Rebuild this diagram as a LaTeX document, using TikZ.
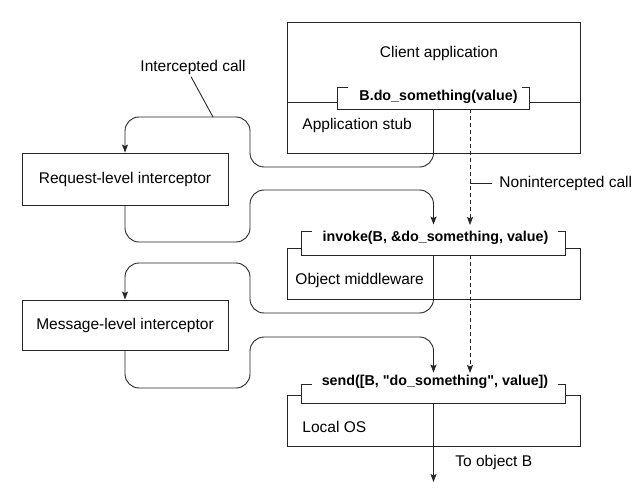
\documentclass[tikz,border=0pt]{standalone}
\usepackage{fontspec}
\setmainfont{Liberation Sans}
\newfontfamily\codefont{Liberation Sans}
\usetikzlibrary{arrows.meta}

\tikzset{
  box/.style = {draw, inner sep = 0pt},
  brkt/.style = {fill = white, inner sep = 0pt},
  txt/.style = {font = \fontsize{15.5}{18}\selectfont, inner sep = 2pt},
  code/.style = {font = \fontsize{14.3}{17}\selectfont\codefont\bfseries, inner sep = 2pt},
  tip/.style = {-{Stealth[length = 8pt, width = 6pt, inset = 1.5pt]}},
  flow/.style = {tip, rounded corners = 14pt},
  nicall/.style = {tip, dash pattern = on 4pt off 3pt}
}

\begin{document}
\begin{tikzpicture}[x = 1pt, y = -1pt, line width = 0.9pt, draw = black!85]
\useasboundingbox (0,0) rectangle (642,489);

% layers on the right
\node [box, minimum width = 293pt, minimum height = 131pt] (client) at (433.5,87.5) {};
\node [box, minimum width = 293pt, minimum height = 51pt] (mware) at (433.5,273.5) {};
\node [box, minimum width = 293pt, minimum height = 51pt] (locos) at (433.5,420.5) {};
\draw (client.west |- 0,102) -- (client.east |- 0,102);

\node [txt] (clienttxt) at (439,53) {Client application};
\node [txt, anchor = west] (stubtxt) at (300,125) {Application stub};
\node [txt, anchor = west] (mwaretxt) at (293,280) {Object middleware};
\node [txt, anchor = west] (locostxt) at (300,427) {Local OS};

% the calls
\node [brkt, minimum width = 191pt, minimum height = 21pt] (callB) at (433.5,98.5) {};
\node [brkt, minimum width = 263pt, minimum height = 23pt] (invk) at (433.5,243.5) {};
\node [brkt, minimum width = 263pt, minimum height = 18pt] (sendm) at (433.5,394) {};
\foreach \n in {callB, invk, sendm}
  \draw ([xshift = 10pt]\n.north west) -- (\n.north west) -- (\n.south west)
    -- (\n.south east) -- (\n.north east) -- ([xshift = -7pt]\n.north east);

\node [code] (callBtxt) at (438.5,97) {B.do\_something(value)};
\node [code] (invktxt) at (435.5,238) {invoke(B, \&do\_something, value)};
\node [code] (sendmtxt) at (435,382) {send([B, "do\_something", value])};

% interceptors
\node [box, txt, minimum width = 206pt, minimum height = 52pt] (reqint) at (125,179) {Request-level interceptor};
\node [box, txt, minimum width = 206pt, minimum height = 50pt] (msgint) at (125,325) {Message-level interceptor};

% intercepted path
\draw [flow] (callB.south) |- (250,167) |- (reqint.north |- 0,117) -- (reqint.north);
\draw [flow] (reqint.south) |- (250,242) |- (invk.north |- 0,190) -- ([yshift = 7pt]invk.north);
\draw [flow] (invk.south) |- (250,313) |- (msgint.north |- 0,263) -- (msgint.north);
\draw [flow] (msgint.south) |- (250,388) |- (sendm.north |- 0,337) -- ([yshift = 12pt]sendm.north);

\coordinate (toB) at (433.5,482);
\draw [tip] (sendm.south) -- (toB);
\node [txt, anchor = west] (toBtxt) at (453,462) {To object B};

% nonintercepted path
\coordinate (dashx) at (470,0);
\draw [nicall] (dashx |- callB.south) -- (dashx |- 0,225);
\draw [nicall] (dashx |- invk.south) -- (dashx |- 0,373);

% labels
\node [txt] (icall) at (193,67) {Intercepted call};
\coordinate (icallend) at (213,117);
\draw ([xshift = -2pt]icall.south) -- (icallend);

\node [txt, anchor = west] (nic) at (497,183) {Nonintercepted call};
\draw (dashx |- nic.west) -- ([xshift = -5pt]nic.west);

\end{tikzpicture}
\end{document}
